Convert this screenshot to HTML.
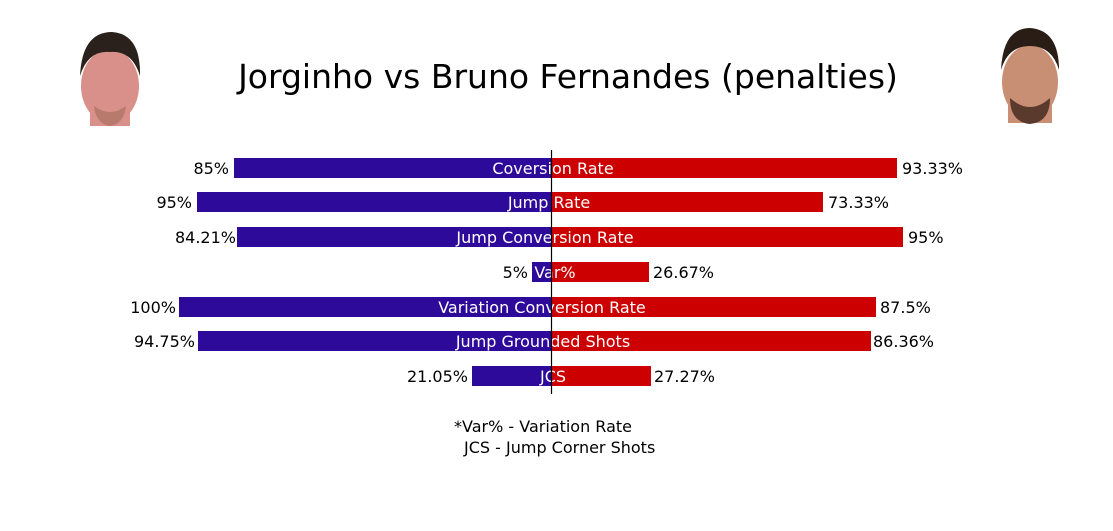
<!DOCTYPE html>
<html><head><meta charset="utf-8"><style>
html,body{margin:0;padding:0;background:#fff;}
svg{display:block;font-family:"DejaVu Sans","Liberation Sans",sans-serif;}
</style></head><body>
<svg width="1113" height="531" viewBox="0 0 1113 531" xmlns="http://www.w3.org/2000/svg">
<rect width="1113" height="531" fill="#fff"/>
<g>
<ellipse cx="110" cy="86" rx="29" ry="37" fill="#d9908a"/>
<rect x="90" y="100" width="40" height="26" fill="#d9908a"/>
<path d="M80 76 Q82 32 112 32 Q141 34 140 76 Q132 50 110 52 Q88 50 80 76Z" fill="#2a211c"/>
<path d="M94 106 Q110 118 126 106 Q124 124 110 126 Q96 124 94 106Z" fill="#b87a6c"/>
</g>
<g>
<ellipse cx="1030" cy="82" rx="28" ry="37" fill="#c98f74"/>
<rect x="1008" y="98" width="44" height="25" fill="#c98f74"/>
<path d="M1001 70 Q1003 28 1030 28 Q1059 30 1059 70 Q1052 46 1030 46 Q1008 46 1001 70Z" fill="#2a1d16"/>
<path d="M1010 98 Q1030 116 1050 98 Q1050 122 1030 124 Q1010 122 1010 98Z" fill="#5a3a2c"/>
</g>
<text x="568" y="88" font-size="33" text-anchor="middle" fill="#000">Jorginho vs Bruno Fernandes (penalties)</text>
<g font-size="16" fill="#000">
<rect x="234" y="158" width="317" height="20" fill="#2e0a9a"/><rect x="551" y="158" width="346" height="20" fill="#cc0000"/>
<text x="229" y="174" text-anchor="end">85%</text><text x="902" y="174">93.33%</text>
<text x="553" y="174" text-anchor="middle" fill="#fff">Coversion Rate</text>

<rect x="197" y="192" width="354" height="20" fill="#2e0a9a"/><rect x="551" y="192" width="272" height="20" fill="#cc0000"/>
<text x="192" y="208" text-anchor="end">95%</text><text x="828" y="208">73.33%</text>
<text x="549" y="208" text-anchor="middle" fill="#fff">Jump Rate</text>

<rect x="237" y="227" width="314" height="20" fill="#2e0a9a"/><rect x="551" y="227" width="352" height="20" fill="#cc0000"/>
<text x="236" y="243" text-anchor="end">84.21%</text><text x="908" y="243">95%</text>
<text x="545" y="243" text-anchor="middle" fill="#fff">Jump Conversion Rate</text>

<rect x="532" y="262" width="19" height="20" fill="#2e0a9a"/><rect x="551" y="262" width="98" height="20" fill="#cc0000"/>
<text x="528" y="278" text-anchor="end">5%</text><text x="653" y="278">26.67%</text>
<text x="555" y="278" text-anchor="middle" fill="#fff">Var%</text>

<rect x="179" y="297" width="372" height="20" fill="#2e0a9a"/><rect x="551" y="297" width="325" height="20" fill="#cc0000"/>
<text x="176" y="313" text-anchor="end">100%</text><text x="880" y="313">87.5%</text>
<text x="542" y="313" text-anchor="middle" fill="#fff">Variation Conversion Rate</text>

<rect x="198" y="331" width="353" height="20" fill="#2e0a9a"/><rect x="551" y="331" width="320" height="20" fill="#cc0000"/>
<text x="195" y="347" text-anchor="end">94.75%</text><text x="873" y="347">86.36%</text>
<text x="543" y="347" text-anchor="middle" fill="#fff">Jump Grounded Shots</text>

<rect x="472" y="366" width="79" height="20" fill="#2e0a9a"/><rect x="551" y="366" width="100" height="20" fill="#cc0000"/>
<text x="468" y="382" text-anchor="end">21.05%</text><text x="654" y="382">27.27%</text>
<text x="553" y="382" text-anchor="middle" fill="#fff">JCS</text>
</g>
<line x1="551.5" y1="150" x2="551.5" y2="394" stroke="#000" stroke-width="1.2"/>
<g font-size="16" fill="#000">
<text x="454" y="432">*Var% - Variation Rate</text>
<text x="464" y="453">JCS - Jump Corner Shots</text>
</g>
</svg>
</body></html>
